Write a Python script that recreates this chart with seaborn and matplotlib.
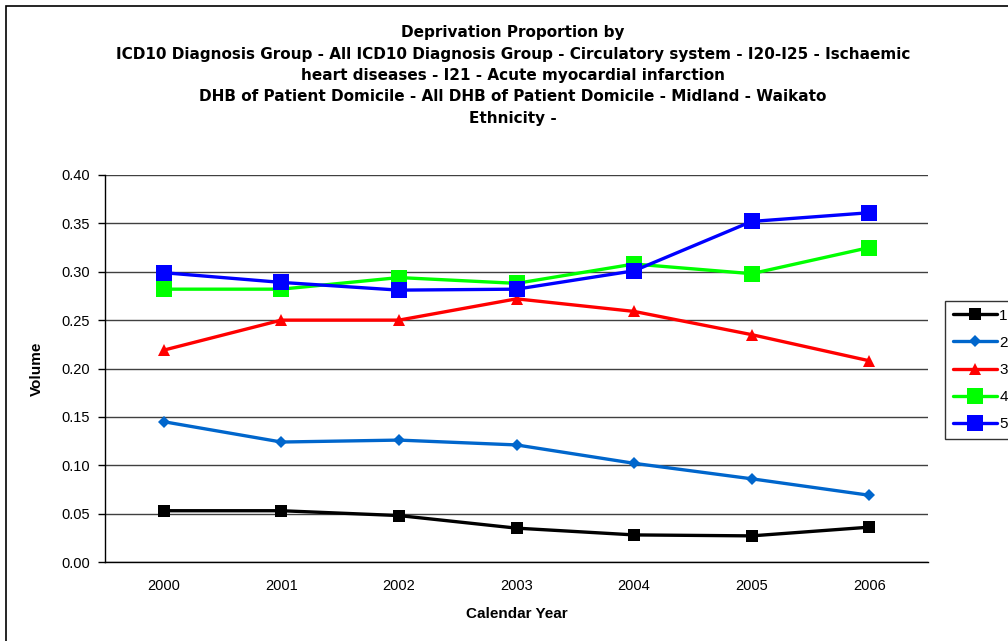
import matplotlib
matplotlib.use("Agg")
import matplotlib.pyplot as plt
from matplotlib.patches import Rectangle
from matplotlib.lines import Line2D
import seaborn as sns
import pandas as pd

years = ["2000", "2001", "2002", "2003", "2004", "2005", "2006"]
quintiles = ["1", "2", "3", "4", "5"]
q1 = [0.053, 0.053, 0.048, 0.035, 0.028, 0.027, 0.036]
q2 = [0.145, 0.124, 0.126, 0.121, 0.102, 0.086, 0.069]
q3 = [0.219, 0.250, 0.250, 0.272, 0.259, 0.235, 0.208]
q4 = [0.282, 0.282, 0.294, 0.288, 0.308, 0.298, 0.325]
q5 = [0.299, 0.289, 0.281, 0.282, 0.301, 0.352, 0.361]
yticks = [0.00, 0.05, 0.10, 0.15, 0.20, 0.25, 0.30, 0.35, 0.40]

title_lines = [
    "Deprivation Proportion by",
    "ICD10 Diagnosis Group - All ICD10 Diagnosis Group - Circulatory system - I20-I25 - Ischaemic",
    "heart diseases - I21 - Acute myocardial infarction",
    "DHB of Patient Domicile - All DHB of Patient Domicile - Midland - Waikato",
    "Ethnicity -",
]

series = [q1, q2, q3, q4, q5]
df = pd.DataFrame({
    "Year": years * len(series),
    "pos": list(range(len(years))) * len(series),
    "Volume": [v for s in series for v in s],
    "Quintile": [q for q in quintiles for _ in years],
})

colors = {"1": "#000000", "2": "#0066CC", "3": "#FF0000", "4": "#00FF00", "5": "#0000FF"}
markers = {"1": "s", "2": "D", "3": "^", "4": "s", "5": "s"}
msizes = {"1": 8, "2": 6.5, "3": 8.5, "4": 11, "5": 11}

sns.set_style("white")
plt.rcParams["font.family"] = ["Liberation Sans", "DejaVu Sans"]
plt.rcParams["text.color"] = "black"
plt.rcParams["axes.labelcolor"] = "black"
plt.rcParams["xtick.color"] = "black"
plt.rcParams["ytick.color"] = "black"

fig = plt.figure(figsize=(10.08, 6.41), dpi=100)
ax = fig.add_axes([105 / 1008, 1 - 562 / 641, (928 - 105) / 1008, (562 - 175) / 641])

for q in quintiles:
    sub = df[df["Quintile"] == q]
    sns.lineplot(data=sub, x="pos", y="Volume", ax=ax, color=colors[q],
                 marker=markers[q], markersize=msizes[q], markeredgewidth=0,
                 linewidth=2.4, sort=False, legend=False, zorder=3)

ax.set_xlim(-0.5, len(years) - 0.5)
ax.set_ylim(0, 0.40)
ax.set_yticks(yticks)
ax.set_yticklabels([f"{t:.2f}" for t in yticks], fontsize=10.5)
ax.set_xticks(range(len(years)))
ax.set_xticklabels(years, fontsize=10.5)
ax.tick_params(axis="x", length=0, pad=12)
ax.set_xticks([i - 0.5 for i in range(len(years) + 1)], minor=True)
ax.tick_params(axis="x", which="minor", length=5, width=1, color="black", direction="out")
ax.tick_params(axis="y", length=5, width=1, color="black", direction="out", left=True, pad=6)

ax.yaxis.grid(True, color="#404040", linewidth=1)
ax.set_axisbelow(True)
for side in ["top", "right"]:
    ax.spines[side].set_visible(False)
for side in ["left", "bottom"]:
    ax.spines[side].set_color("black")
    ax.spines[side].set_linewidth(1)

ax.set_xlabel("Calendar Year", fontsize=11, fontweight="bold", labelpad=10)
ax.set_ylabel("Volume", fontsize=11, fontweight="bold", labelpad=12)

for i, line in enumerate(title_lines):
    fig.text(0.5 + 9 / 1008, 1 - (33 + i * 21.3) / 641, line, ha="center", va="center",
             fontsize=11, fontweight="bold", family=["DejaVu Sans"])

handles = [Line2D([0], [0], color=colors[q], marker=markers[q], markersize=msizes[q],
                  markeredgewidth=0, linewidth=2.4) for q in quintiles]
leg = fig.legend(handles, quintiles, loc="upper left",
                 bbox_to_anchor=(945 / 1008, 1 - 301 / 641), frameon=True,
                 fontsize=11, handlelength=2.9, borderpad=0.5, borderaxespad=0,
                 labelspacing=0.86, handletextpad=0.15, fancybox=False)
leg.get_frame().set_edgecolor("black")
leg.get_frame().set_linewidth(1)
for t in leg.get_texts():
    t.set_clip_on(False)

fig.patches.append(Rectangle((6 / 1008, -0.1), 1.2, 1 - 6 / 641 + 0.1,
                             transform=fig.transFigure, fill=False,
                             edgecolor="black", linewidth=1.2))

fig.savefig("out.png", dpi=100)
